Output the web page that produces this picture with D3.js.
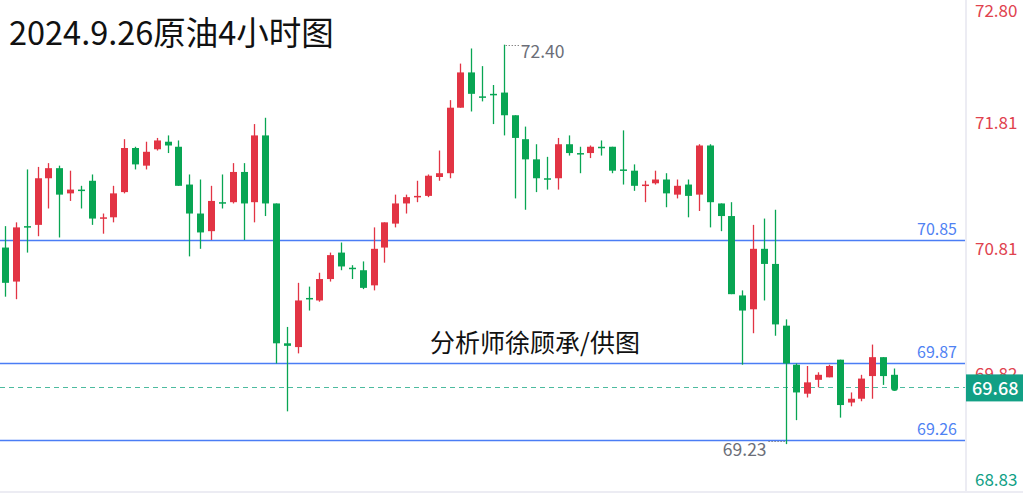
<!DOCTYPE html>
<html>
<head>
<meta charset="utf-8">
<script src="https://cdn.jsdelivr.net/npm/d3@7"></script>
<style>
  html, body { margin: 0; padding: 0; background: #ffffff; }
  svg { display: block; }
  text { font-family: "Noto Sans CJK SC", "Noto Sans", sans-serif; }
</style>
</head>
<body>
<svg id="chart" width="1023" height="495"></svg>
<script>
const title = "2024.9.26原油4小时图";
const credit = "分析师徐顾承/供图";

const openV = [70.79,70.52,70.96,70.97,71.34,71.42,71.22,71.25,71.32,71.02,
  71.03,71.23,71.58,71.44,71.57,71.63,71.59,71.29,71.06,70.92,
  71.15,71.15,71.39,71.15,71.68,71.14,70.03,70.00,70.39,70.37,
  70.54,70.75,70.63,70.61,70.49,70.79,70.98,71.14,71.19,71.20,
  71.35,71.38,71.90,72.18,71.99,72.01,72.02,71.84,71.65,71.49,
  71.34,71.34,71.61,71.54,71.54,71.59,71.59,71.41,71.40,71.29,
  71.30,71.33,71.21,71.29,71.21,71.60,71.14,71.04,70.41,70.30,
  70.78,70.66,70.17,69.86,69.63,69.74,69.76,69.90,69.56,69.59,
  69.77,69.92,69.78];
const highV = [70.96,70.99,71.41,71.43,71.46,71.44,71.40,71.28,71.37,71.06,
  71.28,71.65,71.59,71.63,71.66,71.68,71.64,71.37,71.33,71.28,
  71.37,71.46,71.46,71.77,71.82,71.14,70.16,70.51,70.48,70.59,
  70.75,70.83,70.65,70.68,70.95,70.99,71.21,71.21,71.32,71.37,
  71.56,71.96,72.25,72.37,72.23,72.08,72.40,71.84,71.75,71.61,
  71.51,71.66,71.68,71.59,71.60,71.64,71.59,71.72,71.45,71.32,
  71.40,71.38,71.33,71.33,71.61,71.61,71.14,71.15,70.45,70.97,
  71.02,71.09,70.22,69.87,69.85,69.80,69.86,69.90,69.64,69.78,
  70.02,69.92,69.83];
const lowV = [70.40,70.38,70.75,70.88,71.10,70.87,71.16,71.10,70.97,70.90,
  70.99,71.22,71.41,71.41,71.56,71.54,71.28,70.72,70.78,70.85,
  71.10,71.14,70.85,70.99,71.04,69.87,69.49,69.95,70.29,70.36,
  70.52,70.61,70.54,70.46,70.45,70.67,70.95,71.06,71.15,71.19,
  71.32,71.34,71.90,71.87,71.95,71.77,71.68,71.18,71.09,71.23,
  71.25,71.25,71.52,71.38,71.50,71.52,71.38,71.29,71.24,71.15,
  71.29,71.11,71.18,71.03,71.08,70.95,70.92,70.42,69.86,70.11,
  70.37,70.09,69.23,69.42,69.60,69.68,69.76,69.44,69.53,69.57,
  69.59,69.70,69.66];
const closeV = [70.51,70.95,70.95,71.34,71.42,71.21,71.25,71.24,71.02,71.03,
  71.22,71.58,71.45,71.55,71.64,71.60,71.28,71.06,70.91,71.16,
  71.14,71.39,71.14,71.68,71.14,70.03,70.01,70.37,70.38,70.54,
  70.73,70.64,70.62,70.47,70.78,70.99,71.14,71.19,71.20,71.36,
  71.38,71.90,72.18,72.01,71.98,72.00,71.84,71.66,71.49,71.34,
  71.33,71.61,71.54,71.53,71.59,71.58,71.40,71.40,71.28,71.29,
  71.33,71.22,71.28,71.20,71.60,71.15,71.04,70.42,70.29,70.78,
  70.66,70.18,69.87,69.64,69.72,69.78,69.85,69.54,69.59,69.75,
  69.92,69.77,69.68];
const categories = openV.map((d, i) => "K" + (i + 1));

const axisTicks = [72.80, 71.81, 70.81, 69.82, 68.83];
const levels = [70.85, 69.87, 69.26];
const lastPrice = 69.68;
const highMark = 72.40;
const lowMark = 69.23;

const W = 1023, H = 495;
const plotRight = 966;
const UP = "#e23444", DOWN = "#08a553", BLUE = "#4a7df5", TEAL = "#10a085";

const svg = d3.select("#chart");
const x = d3.scalePoint().domain(categories).range([5, 894]);
const y = d3.scaleLinear().domain([68.83, 72.80]).range([494.5, -5.7]);

const bars = categories.map((c, i) => ({c, o: openV[i], h: highV[i], l: lowV[i], cl: closeV[i]}));

// frame
svg.append("line").attr("x1", plotRight).attr("x2", plotRight).attr("y1", 0).attr("y2", 492)
  .attr("stroke", "#ececf3").attr("stroke-width", 2);
svg.append("line").attr("x1", 0).attr("x2", W).attr("y1", 492).attr("y2", 492)
  .attr("stroke", "#ececf3").attr("stroke-width", 2);

// level lines
levels.forEach(v => {
  const yy = Math.round(y(v)) + 0.5;
  svg.append("line").attr("x1", 0).attr("x2", plotRight - 1).attr("y1", yy).attr("y2", yy)
    .attr("stroke", BLUE).attr("stroke-width", 1.5);
  svg.append("text").attr("x", 957).attr("y", yy - 6).attr("text-anchor", "end")
    .attr("font-size", 16).attr("fill", "#4f82f3").text(v.toFixed(2));
});

// last price dashed line
svg.append("line").attr("x1", 0).attr("x2", plotRight - 1)
  .attr("y1", Math.round(y(lastPrice)) + 0.5).attr("y2", Math.round(y(lastPrice)) + 0.5)
  .attr("stroke", "#4dbb9f").attr("stroke-dasharray", "5,4").attr("stroke-width", 1);

// candles
const bw = 7;
const g = svg.append("g");
bars.forEach(b => {
  const col = b.cl >= b.o ? UP : DOWN;
  const cx = Math.round(x(b.c)) + 0.5;
  g.append("line").attr("x1", cx).attr("x2", cx).attr("y1", y(b.h)).attr("y2", y(b.l))
    .attr("stroke", col).attr("stroke-width", 1.3);
  const top = y(Math.max(b.o, b.cl)), bot = y(Math.min(b.o, b.cl));
  g.append("rect").attr("x", cx - bw / 2).attr("y", top).attr("width", bw)
    .attr("height", Math.max(bot - top, 1.5)).attr("fill", col);
});
// live dot on last candle
const lastBar = bars[bars.length - 1];
svg.append("circle").attr("cx", x(lastBar.c) + 0.5).attr("cy", y(lastBar.cl)).attr("r", 3.5).attr("fill", DOWN);

// high / low markers
const hiIdx = highV.indexOf(highMark);
const hx = x(categories[hiIdx]) + 2, hy = Math.round(y(highMark)) + 0.5;
svg.append("line").attr("x1", hx).attr("x2", hx + 14).attr("y1", hy).attr("y2", hy)
  .attr("stroke", "#555").attr("stroke-dasharray", "1,2");
svg.append("text").attr("x", hx + 15).attr("y", hy + 12).attr("font-size", 17.5)
  .attr("fill", "#6b6e78").text(highMark.toFixed(2));

const loIdx = lowV.indexOf(lowMark);
const lx = x(categories[loIdx]) - 1, ly = Math.round(y(lowMark)) - 2.5;
svg.append("line").attr("x1", lx - 16).attr("x2", lx).attr("y1", ly).attr("y2", ly)
  .attr("stroke", "#555").attr("stroke-dasharray", "1,2");
svg.append("text").attr("x", lx - 18).attr("y", ly + 14).attr("text-anchor", "end").attr("font-size", 17.5)
  .attr("fill", "#6b6e78").text(lowMark.toFixed(2));

// right axis labels
axisTicks.forEach(v => {
  const yy = Math.min(Math.max(y(v) + 4, 11), 480);
  svg.append("text").attr("x", 975).attr("y", yy).attr("dy", "0.35em").attr("font-size", 17)
    .attr("fill", v < 69 ? TEAL : "#e0424e").text(v.toFixed(2));
});

// last price tag
const ty = y(lastPrice);
svg.append("rect").attr("x", plotRight).attr("y", ty - 13).attr("width", W - plotRight).attr("height", 27)
  .attr("fill", "#12a085");
svg.append("text").attr("x", 972).attr("y", ty + 1).attr("dy", "0.35em").attr("font-size", 18)
  .attr("font-weight", 500).attr("fill", "#ffffff").text(lastPrice.toFixed(2));

// title and credit
svg.append("text").attr("x", 9).attr("y", 45).attr("font-size", 32.5).attr("fill", "#111").text(title);
svg.append("text").attr("x", 535).attr("y", 352).attr("text-anchor", "middle").attr("font-size", 25)
  .attr("fill", "#111").text(credit);
</script>
</body>
</html>
